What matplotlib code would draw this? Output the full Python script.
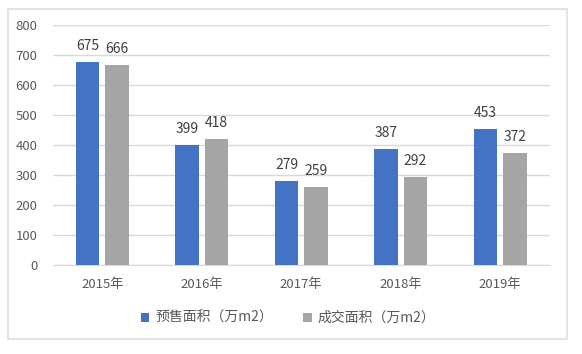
import matplotlib
matplotlib.use("Agg")
import matplotlib.pyplot as plt
import numpy as np
from matplotlib.patches import Rectangle

plt.rcParams['font.family'] = ['Noto Sans CJK SC', 'DejaVu Sans']

categories = ['2015年', '2016年', '2017年', '2018年', '2019年']
presale = [675, 399, 279, 387, 453]
deal = [666, 418, 259, 292, 372]
series_names = ['预售面积（万m2）', '成交面积（万m2）']
yticks = [0, 100, 200, 300, 400, 500, 600, 700, 800]

fig = plt.figure(figsize=(5.82, 3.54), dpi=100)
fig.patches.append(Rectangle((8/582, 1-339/354), 559/582, 330/354, transform=fig.transFigure,
                             fill=False, edgecolor='#E3E3E3', linewidth=1.5))
ax = fig.add_axes([52.5/582, 1-264.5/354, 497.5/582, 239.5/354])

x = np.arange(len(categories))
w = 0.235
off = 0.148
tc = '#595959'
b1 = ax.bar(x - off, presale, w, color='#4472C4', label=series_names[0], zorder=3)
b2 = ax.bar(x + off, deal, w, color='#A5A5A5', label=series_names[1], zorder=3)
for bars, vals in ((b1, presale), (b2, deal)):
    for r, v in zip(bars, vals):
        ax.annotate(str(v), (r.get_x() + r.get_width()/2, v), xytext=(0, 11.5),
                    textcoords='offset points', ha='center', va='center',
                    fontsize=10, color='#404040')

ax.set_xlim(-0.5, len(categories) - 0.5)
ax.set_ylim(0, 800)
ax.set_yticks(yticks)
ax.set_xticks(x)
ax.set_xticklabels(categories)
ax.tick_params(axis='both', length=0, labelsize=9.5, colors=tc)
ax.tick_params(axis='y', pad=11)
ax.tick_params(axis='x', pad=10)
ax.grid(axis='y', color='#D9D9D9', linewidth=1, zorder=0)
for s in ['top', 'right', 'left']:
    ax.spines[s].set_visible(False)
ax.spines['bottom'].set_color('#D9D9D9')

fig.legend(handles=[b1, b2], labels=series_names, loc='center', bbox_to_anchor=(288/582, 1-318/354),
           ncol=2, frameon=False, fontsize=10, handlelength=0.6, handleheight=0.6,
           columnspacing=2.2, handletextpad=0.4, labelcolor=tc)

fig.savefig('out.png', dpi=100)
